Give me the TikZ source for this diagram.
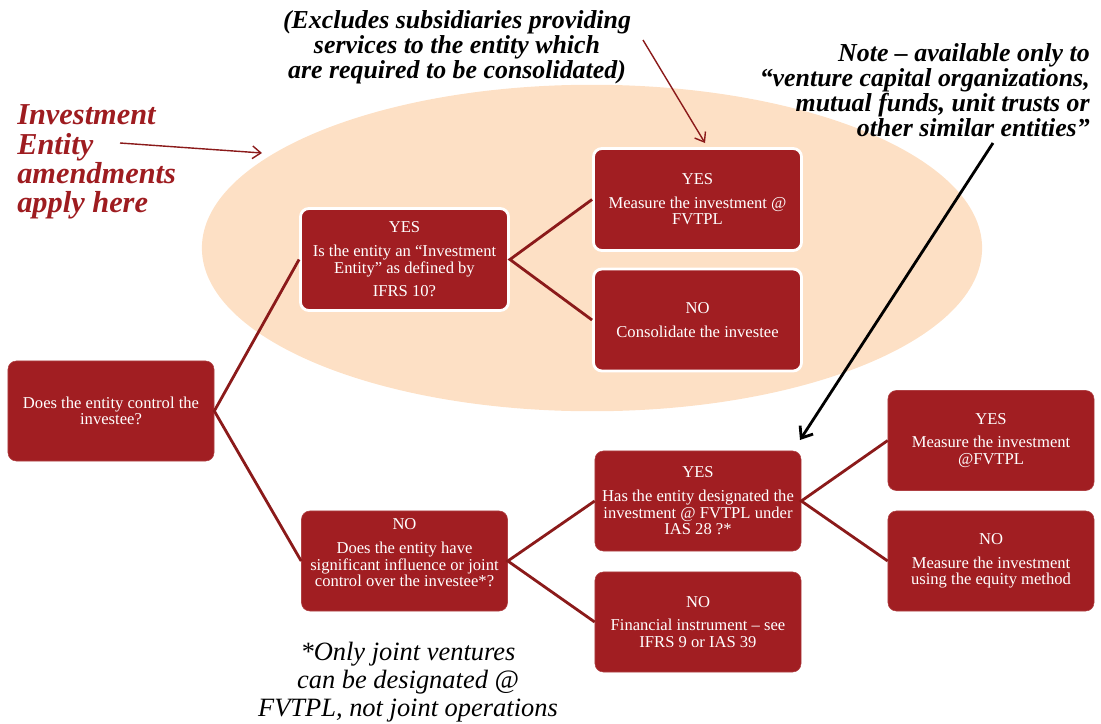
\documentclass[tikz,border=0pt]{standalone}
\usepackage{fontspec}
\setmainfont{Liberation Serif}
\usepackage{tikz}
\usetikzlibrary{arrows.meta}

\definecolor{boxred}{RGB}{161,30,34}
\definecolor{lnred}{RGB}{139,26,26}
\definecolor{peach}{RGB}{253,224,197}
\definecolor{redtext}{RGB}{158,28,32}

\begin{document}
\begin{tikzpicture}[x=0.025cm,y=-0.025cm,
box/.style={rounded corners=6pt,fill=boxred,draw=boxred!85!white,minimum width=5.15cm,minimum height=2.5cm,
 text=white,align=center,font=\fontsize{11.8}{11.8}\selectfont,inner sep=2pt},
inbox/.style={box,draw=white,line width=2pt,minimum width=5.2cm,minimum height=2.55cm},
branch/.style={lnred,line width=2pt},
note/.style={font=\fontsize{18.4}{17.8}\selectfont\bfseries\itshape,inner sep=0pt}]
\useasboundingbox (0,0) rectangle (1101,724);

\fill[peach] (592,248) ellipse [x radius=9.75cm,y radius=4.08cm];

\node[box] (ctrl) at (111,411) {Does the entity control the\\investee?};
\node[inbox] (invent) at (404.5,259.5) {YES\\[5pt]Is the entity an “Investment\\Entity” as defined by\\[5pt]IFRS 10?};
\node[inbox] (fvtpl) at (697.5,199.5) {YES\\[5pt]Measure the investment @\\FVTPL};
\node[inbox] (consol) at (697.5,320) {NO\\[5pt]Consolidate the investee};
\node[box] (siginf) at (404.5,561) {NO\\[5pt]Does the entity have\\significant influence or joint\\control over the investee*?\\[0pt]\mbox{}};
\node[box] (desig) at (698,501) {YES\\[5pt]Has the entity designated the\\investment @ FVTPL under\\IAS 28 ?*};
\node[box] (fininst) at (698,622) {NO\\[5pt]Financial instrument – see\\IFRS 9 or IAS 39};
\node[box] (fvtplb) at (991,440.5) {YES\\[5pt]Measure the investment\\@FVTPL};
\node[box] (equity) at (991,561) {NO\\[5pt]Measure the investment\\using the equity method};

\draw[branch] (invent.west) -- (ctrl.east) -- (siginf.west);
\draw[branch] (fvtpl.west) -- (invent.east) -- (consol.west);
\draw[branch] (desig.west) -- (siginf.east) -- (fininst.west);
\draw[branch] (fvtplb.west) -- (desig.east) -- (equity.west);

\node[note,text=redtext,anchor=west,align=left,font=\fontsize{21.6}{20.8}\selectfont\bfseries\itshape] (apply) at (17,162)
 {Investment\\Entity\\amendments\\apply here};
\node[note,align=center] (excl) at (457,47)
 {(Excludes subsidiaries providing\\services to the entity which\\are required to be consolidated)};
\node[note,anchor=east,align=right] (avail) at (1090,90)
 {Note – available only to\\“venture capital organizations,\\mutual funds, unit trusts or\\other similar entities”};
\node[inner sep=0pt,align=center,font=\fontsize{18.8}{20}\selectfont\itshape] (joint) at (408,682)
 {*Only joint ventures\\can be designated @\\FVTPL, not joint operations};

\coordinate (applyTail) at (120,143);
\coordinate (applyTip) at (262,153);
\coordinate (exclTail) at (643,40);
\coordinate (exclTip) at (705,143);
\coordinate (availTail) at (993,143);
\coordinate (availTip) at (800,440);
\draw[lnred,line width=1pt,-{Straight Barb[length=6pt,width=9pt]}] (applyTail) -- (applyTip);
\draw[lnred,line width=1pt,-{Straight Barb[length=6pt,width=9pt]}] (exclTail) -- (exclTip);
\draw[black,line width=2pt,-{Straight Barb[length=7pt,width=11pt]}] (availTail) -- (availTip);
\end{tikzpicture}
\end{document}
